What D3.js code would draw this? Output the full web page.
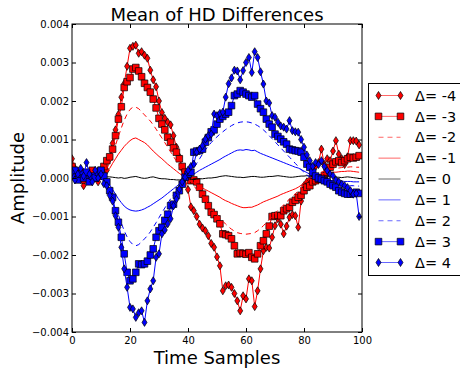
<!DOCTYPE html>
<html>
<head>
<meta charset="utf-8">
<script src="https://cdn.jsdelivr.net/npm/d3@7"></script>
<style>
  html, body { margin: 0; padding: 0; background: #fff; overflow: hidden; }
  svg { display: block; font-family: "DejaVu Sans", sans-serif; }
</style>
</head>
<body>
<svg id="chart" width="460" height="370"></svg>
<script>
// amplitudes below are in units of 0.001
const UNIT = 1e-3;

const dm4 = [
  0.50, 0.25, 0.05, 0.10, -0.20, 0.05, 0.15, -0.05, 0.10, -0.10,
  0.05, 0.10, 0.20, 0.50, 0.90, 1.25, 1.65, 2.10, 2.45, 2.90,
  3.37, 3.42, 3.45, 3.24, 3.28, 3.19, 3.11, 2.80, 2.55, 2.37,
  2.00, 1.70, 1.55, 1.45, 1.38, 1.10, 0.80, 0.55, 0.25, 0.00,
  -0.30, -0.75, -0.85, -1.00, -1.20, -1.30, -1.37, -1.50, -1.70, -1.80,
  -2.05, -2.28, -2.93, -2.80, -2.78, -2.84, -3.00, -3.19, -3.45, -3.06,
  -3.14, -2.62, -2.67, -3.34, -2.93, -2.36, -1.89, -1.80, -1.82, -1.54,
  -1.24, -1.06, -1.20, -1.45, -1.25, -1.02, -0.95, -0.98, -1.28, -0.60,
  -0.20, -0.10, -0.05, 0.10, 0.30, 0.40, 0.75, 0.35, 0.50, 0.45,
  0.70, 0.97, 0.62, 0.50, 0.35, 0.55, 0.97, 0.97, 0.96, 0.86
];
const dm3 = [
  0.30, 0.10, 0.00, 0.15, -0.05, 0.10, 0.05, 0.20, 0.00, 0.10,
  0.20, 0.30, 0.45, 0.55, 0.75, 1.10, 1.53, 1.85, 2.35, 2.50,
  2.61, 2.83, 2.87, 2.78, 2.63, 2.46, 2.35, 2.23, 2.05, 1.82,
  1.55, 1.40, 1.25, 1.06, 0.93, 0.78, 0.67, 0.50, 0.30, 0.15,
  0.05, -0.07, -0.05, -0.10, -0.24, -0.42, -0.55, -0.72, -0.89, -0.95,
  -1.06, -1.19, -1.45, -1.47, -1.50, -1.58, -1.76, -1.97, -1.95, -1.96,
  -1.98, -1.94, -2.06, -2.10, -1.97, -1.76, -1.63, -1.45, -1.25, -1.00,
  -0.98, -0.97, -0.98, -0.85, -0.80, -0.76, -0.63, -0.58, -0.50, -0.45,
  -0.33, -0.24, -0.20, -0.10, -0.07, -0.03, 0.00, 0.06, 0.15, 0.28,
  0.36, 0.42, 0.45, 0.40, 0.45, 0.50, 0.54, 0.52, 0.54, 0.58
];
const dm2 = [
  0.10, 0.08, 0.09, 0.07, 0.08, 0.10, 0.09, 0.08, 0.09, 0.10,
  0.12, 0.15, 0.25, 0.42, 0.62, 0.85, 1.08, 1.30, 1.50, 1.66,
  1.78, 1.84, 1.84, 1.80, 1.72, 1.64, 1.56, 1.48, 1.38, 1.27,
  1.15, 1.04, 0.92, 0.80, 0.68, 0.56, 0.44, 0.32, 0.20, 0.10,
  0.00, -0.10, -0.20, -0.30, -0.40, -0.50, -0.60, -0.70, -0.80, -0.88,
  -0.96, -1.04, -1.12, -1.20, -1.27, -1.33, -1.38, -1.42, -1.44, -1.45,
  -1.46, -1.45, -1.44, -1.42, -1.37, -1.31, -1.24, -1.16, -1.08, -1.00,
  -0.92, -0.84, -0.77, -0.70, -0.62, -0.55, -0.48, -0.41, -0.34, -0.26,
  -0.18, -0.10, -0.03, 0.03, 0.08, 0.12, 0.15, 0.18, 0.20, 0.22,
  0.24, 0.25, 0.26, 0.27, 0.28, 0.28, 0.29, 0.29, 0.28, 0.28
];
const dm1 = [
  0.08, 0.06, 0.07, 0.05, 0.06, 0.08, 0.07, 0.06, 0.05, 0.07,
  0.08, 0.10, 0.15, 0.25, 0.38, 0.50, 0.62, 0.72, 0.82, 0.90,
  0.97, 1.02, 1.04, 1.00, 0.96, 0.92, 0.86, 0.78, 0.70, 0.63,
  0.56, 0.50, 0.43, 0.36, 0.30, 0.24, 0.18, 0.12, 0.07, 0.02,
  -0.03, -0.08, -0.13, -0.18, -0.22, -0.26, -0.30, -0.34, -0.38, -0.42,
  -0.46, -0.50, -0.55, -0.59, -0.62, -0.66, -0.69, -0.72, -0.75, -0.77,
  -0.77, -0.76, -0.76, -0.73, -0.70, -0.66, -0.62, -0.59, -0.56, -0.53,
  -0.50, -0.47, -0.43, -0.40, -0.37, -0.34, -0.31, -0.28, -0.24, -0.19,
  -0.12, -0.05, 0.00, 0.03, 0.06, 0.08, 0.10, 0.12, 0.13, 0.14,
  0.15, 0.15, 0.16, 0.17, 0.17, 0.18, 0.18, 0.17, 0.16, 0.15
];
const d0 = [
  0.02, 0.01, 0.03, 0.02, 0.01, 0.02, 0.03, 0.02, 0.01, 0.02,
  0.02, 0.03, 0.03, 0.03, 0.02, 0.01, 0.00, 0.01, -0.01, 0.00,
  0.02, 0.03, 0.04, 0.02, 0.00, -0.01, 0.00, 0.02, 0.03, 0.01,
  -0.01, -0.02, -0.02, -0.03, -0.04, -0.04, -0.05, -0.05, -0.04, -0.03,
  -0.02, -0.03, -0.04, -0.03, -0.02, -0.02, -0.01, 0.00, 0.00, 0.01,
  0.02, 0.04, 0.05, 0.06, 0.05, 0.04, 0.03, 0.02, 0.02, 0.01,
  0.02, 0.03, 0.04, 0.04, 0.03, 0.02, 0.02, 0.03, 0.04, 0.04,
  0.05, 0.06, 0.05, 0.04, 0.03, 0.02, 0.02, 0.03, 0.04, 0.05,
  0.05, 0.06, 0.05, 0.04, 0.04, 0.03, 0.03, 0.02, 0.03, 0.04,
  0.03, 0.02, 0.02, 0.01, 0.02, 0.03, 0.02, 0.01, 0.00, -0.01
];
const d1 = [
  0.02, 0.00, 0.01, -0.01, 0.00, 0.02, 0.01, -0.01, 0.00, 0.01,
  0.00, -0.02, -0.08, -0.18, -0.30, -0.42, -0.54, -0.64, -0.73, -0.79,
  -0.83, -0.85, -0.86, -0.85, -0.83, -0.80, -0.76, -0.72, -0.67, -0.62,
  -0.57, -0.52, -0.46, -0.40, -0.34, -0.28, -0.22, -0.16, -0.10, -0.05,
  0.00, 0.05, 0.10, 0.15, 0.20, 0.24, 0.28, 0.32, 0.36, 0.40,
  0.44, 0.48, 0.53, 0.57, 0.61, 0.65, 0.69, 0.72, 0.73, 0.72,
  0.74, 0.73, 0.71, 0.72, 0.68, 0.64, 0.61, 0.58, 0.55, 0.52,
  0.49, 0.46, 0.43, 0.40, 0.37, 0.34, 0.31, 0.28, 0.26, 0.22,
  0.18, 0.14, 0.10, 0.06, 0.03, 0.00, -0.02, -0.04, -0.05, -0.06,
  -0.07, -0.07, -0.08, -0.08, -0.09, -0.09, -0.09, -0.10, -0.10, -0.10
];
const d2 = [
  0.00, -0.02, 0.01, -0.01, 0.00, 0.02, -0.01, 0.00, -0.02, 0.00,
  -0.03, -0.05, -0.15, -0.32, -0.52, -0.74, -0.96, -1.17, -1.37, -1.53,
  -1.65, -1.73, -1.76, -1.73, -1.66, -1.58, -1.50, -1.40, -1.28, -1.16,
  -1.03, -0.90, -0.78, -0.66, -0.54, -0.43, -0.33, -0.23, -0.14, -0.05,
  0.05, 0.15, 0.26, 0.38, 0.50, 0.62, 0.73, 0.83, 0.92, 1.00,
  1.07, 1.14, 1.20, 1.26, 1.31, 1.36, 1.40, 1.43, 1.45, 1.46,
  1.46, 1.45, 1.43, 1.40, 1.36, 1.31, 1.25, 1.18, 1.10, 1.02,
  0.94, 0.86, 0.78, 0.70, 0.62, 0.54, 0.46, 0.38, 0.30, 0.22,
  0.15, 0.08, 0.02, -0.03, -0.07, -0.10, -0.12, -0.14, -0.15, -0.16,
  -0.17, -0.18, -0.18, -0.19, -0.19, -0.20, -0.20, -0.20, -0.21, -0.21
];
const d3v = [
  0.05, 0.20, -0.05, 0.10, 0.00, 0.15, -0.10, 0.05, 0.00, 0.15,
  0.20, 0.05, -0.10, -0.33, -0.50, -0.85, -1.15, -1.54, -1.97, -2.45,
  -2.67, -2.62, -2.45, -2.23, -2.25, -2.23, -2.16, -2.00, -1.84, -1.54,
  -1.37, -1.28, -1.10, -0.94, -0.72, -0.68, -0.45, -0.33, -0.16, 0.02,
  0.10, 0.15, 0.67, 0.70, 0.71, 0.75, 0.93, 1.05, 1.20, 1.25,
  1.40, 1.53, 1.60, 1.66, 1.71, 1.88, 2.14, 2.18, 2.27, 2.23,
  2.18, 2.14, 2.10, 2.14, 1.92, 1.80, 1.71, 1.53, 1.40, 1.32,
  1.14, 1.08, 1.01, 0.94, 0.88, 0.75, 0.73, 0.71, 0.70, 0.67,
  0.54, 0.36, 0.28, 0.15, 0.05, 0.00, -0.03, -0.07, -0.10, -0.16,
  -0.20, -0.24, -0.33, -0.37, -0.40, -0.42, -0.42, -0.40, -0.37, -0.40
];
const d4 = [
  0.15, -0.05, 0.10, 0.25, 0.05, 0.40, 0.10, -0.10, 0.20, 0.00,
  0.10, -0.15, -0.20, -0.45, -0.60, -0.98, -1.28, -1.80, -2.36, -2.84,
  -3.36, -3.40, -3.62, -3.50, -3.45, -3.75, -3.19, -2.88, -2.67, -2.06,
  -1.97, -1.45, -1.35, -1.19, -1.06, -0.72, -0.55, -0.29, -0.10, 0.02,
  0.20, 0.30, 0.36, 0.67, 0.75, 0.84, 1.01, 1.10, 1.14, 1.66,
  1.62, 1.68, 1.71, 2.10, 2.45, 2.60, 2.80, 2.78, 2.55, 2.79,
  3.00, 3.13, 2.74, 3.28, 3.13, 2.76, 2.44, 2.00, 1.95, 1.62,
  1.58, 1.45, 1.35, 1.32, 1.27, 1.49, 1.23, 1.20, 1.19, 1.00,
  0.80, 0.60, 0.45, 0.30, 0.40, 0.35, 0.45, 0.30, 0.19, 0.10,
  0.06, -0.05, -0.10, -0.16, -0.20, -0.25, -0.33, -0.42, -0.40, -1.00
];

const deltas = [-4, -3, -2, -1, 0, 1, 2, 3, 4];
const seriesValues = [dm4, dm3, dm2, dm1, d0, d1, d2, d3v, d4];
const xTicks = [0, 20, 40, 60, 80, 100];
const yTicks = [-0.004, -0.003, -0.002, -0.001, 0, 0.001, 0.002, 0.003, 0.004];

// style per delta: colour, dash, marker
const styles = {
  '-4': { color: '#ff0000', dash: null, marker: 'diamond' },
  '-3': { color: '#ff0000', dash: null, marker: 'square' },
  '-2': { color: '#ff0000', dash: '5,4', marker: null },
  '-1': { color: '#ff0000', dash: null, marker: null },
  '0':  { color: '#000000', dash: null, marker: null },
  '1':  { color: '#0000ff', dash: null, marker: null },
  '2':  { color: '#0000ff', dash: '5,4', marker: null },
  '3':  { color: '#0000ff', dash: null, marker: 'square' },
  '4':  { color: '#0000ff', dash: null, marker: 'diamond' }
};

const margin = { left: 72, top: 24, right: 98, bottom: 38 };
const width = 460, height = 370;
const plotW = width - margin.left - margin.right;   // 290
const plotH = height - margin.top - margin.bottom;  // 308

const svg = d3.select('#chart');

const x = d3.scaleLinear().domain([0, 100]).range([0, plotW]);
const y = d3.scaleLinear().domain([-0.004, 0.004]).range([plotH, 0]);

// thin diamond like matplotlib 'd'
const thinDiamond = {
  draw(ctx, size) {
    const h = Math.sqrt(size) * 0.62;
    const w = h * 0.62;
    ctx.moveTo(0, -h);
    ctx.lineTo(w, 0);
    ctx.lineTo(0, h);
    ctx.lineTo(-w, 0);
    ctx.closePath();
  }
};
const markerPath = {
  diamond: d3.symbol().type(thinDiamond).size(42)(),
  square: d3.symbol().type(d3.symbolSquare).size(44)()
};

svg.append('defs').append('clipPath').attr('id', 'plot-clip')
  .append('rect').attr('width', plotW).attr('height', plotH);

const g = svg.append('g').attr('transform', `translate(${margin.left},${margin.top})`);

const dataG = g.append('g').attr('clip-path', 'url(#plot-clip)');

const line = d3.line()
  .x((d, i) => x(i))
  .y(d => y(d * UNIT));

deltas.forEach((delta, k) => {
  const st = styles[String(delta)];
  const vals = seriesValues[k];
  const sg = dataG.append('g').attr('class', 'series');
  sg.append('path')
    .datum(vals)
    .attr('d', line)
    .attr('fill', 'none')
    .attr('stroke', st.color)
    .attr('stroke-width', 1)
    .attr('stroke-dasharray', st.dash)
    .attr('stroke-linejoin', 'round');
  if (st.marker) {
    sg.selectAll('path.mk')
      .data(vals)
      .join('path')
      .attr('class', 'mk')
      .attr('transform', (d, i) => `translate(${x(i)},${y(d * UNIT)})`)
      .attr('d', markerPath[st.marker])
      .attr('fill', st.color)
      .attr('stroke', '#000')
      .attr('stroke-width', 0.7);
  }
});

// axes with ticks pointing inward
const fontSize = 10;
const xAxis = g.append('g')
  .attr('transform', `translate(0,${plotH})`)
  .call(d3.axisBottom(x).tickValues(xTicks).tickSize(-4).tickPadding(5).tickFormat(d3.format('d')));
const xTop = g.append('g')
  .call(d3.axisTop(x).tickValues(xTicks).tickSize(-4).tickFormat(''));
const yAxis = g.append('g')
  .call(d3.axisLeft(y).tickValues(yTicks).tickSize(-4).tickPadding(3).tickFormat(d3.format('.3f')));
const yRight = g.append('g')
  .attr('transform', `translate(${plotW},0)`)
  .call(d3.axisRight(y).tickValues(yTicks).tickSize(-4).tickFormat(''));

[xAxis, xTop, yAxis, yRight].forEach(ax => {
  ax.select('.domain').remove();
  ax.selectAll('line').attr('stroke', '#000').attr('stroke-width', 1);
  ax.selectAll('text')
    .attr('fill', '#000')
    .attr('font-size', fontSize)
    .attr('font-family', '"DejaVu Sans", sans-serif');
});

// frame
g.append('rect')
  .attr('x', 0).attr('y', 0)
  .attr('width', plotW).attr('height', plotH)
  .attr('fill', 'none')
  .attr('stroke', '#000')
  .attr('stroke-width', 1);

// title and axis labels
svg.append('text')
  .attr('x', margin.left + plotW / 2)
  .attr('y', 21)
  .attr('text-anchor', 'middle')
  .attr('font-size', 18)
  .text('Mean of HD Differences');

svg.append('text')
  .attr('x', margin.left + plotW / 2)
  .attr('y', 364)
  .attr('text-anchor', 'middle')
  .attr('font-size', 18)
  .text('Time Samples');

svg.append('text')
  .attr('transform', `translate(23.5,${margin.top + plotH / 2}) rotate(-90)`)
  .attr('text-anchor', 'middle')
  .attr('font-size', 18)
  .text('Amplitude');

// legend
const legend = svg.append('g').attr('transform', 'translate(368.5,83.5)');
legend.append('rect')
  .attr('width', 110)
  .attr('height', 192)
  .attr('fill', '#fff')
  .attr('stroke', '#000')
  .attr('stroke-width', 1);

const rowY = d3.scalePoint().domain(deltas.map(String)).range([12, 179]);

deltas.forEach(delta => {
  const st = styles[String(delta)];
  const row = legend.append('g').attr('transform', `translate(0,${rowY(String(delta))})`);
  row.append('line')
    .attr('x1', 10).attr('x2', 32)
    .attr('stroke', st.color)
    .attr('stroke-opacity', 0.6)
    .attr('stroke-width', 1)
    .attr('stroke-dasharray', st.dash);
  if (st.marker) {
    [10, 32].forEach(mx => {
      row.append('path')
        .attr('transform', `translate(${mx},0)`)
        .attr('d', markerPath[st.marker])
        .attr('fill', st.color)
        .attr('stroke', '#000')
        .attr('stroke-width', 0.7);
    });
  }
  row.append('text')
    .attr('x', 46.5)
    .attr('dy', '0.36em')
    .attr('font-size', 14.5)
    .text(`\u0394= ${delta}`);
});
</script>
</body>
</html>
